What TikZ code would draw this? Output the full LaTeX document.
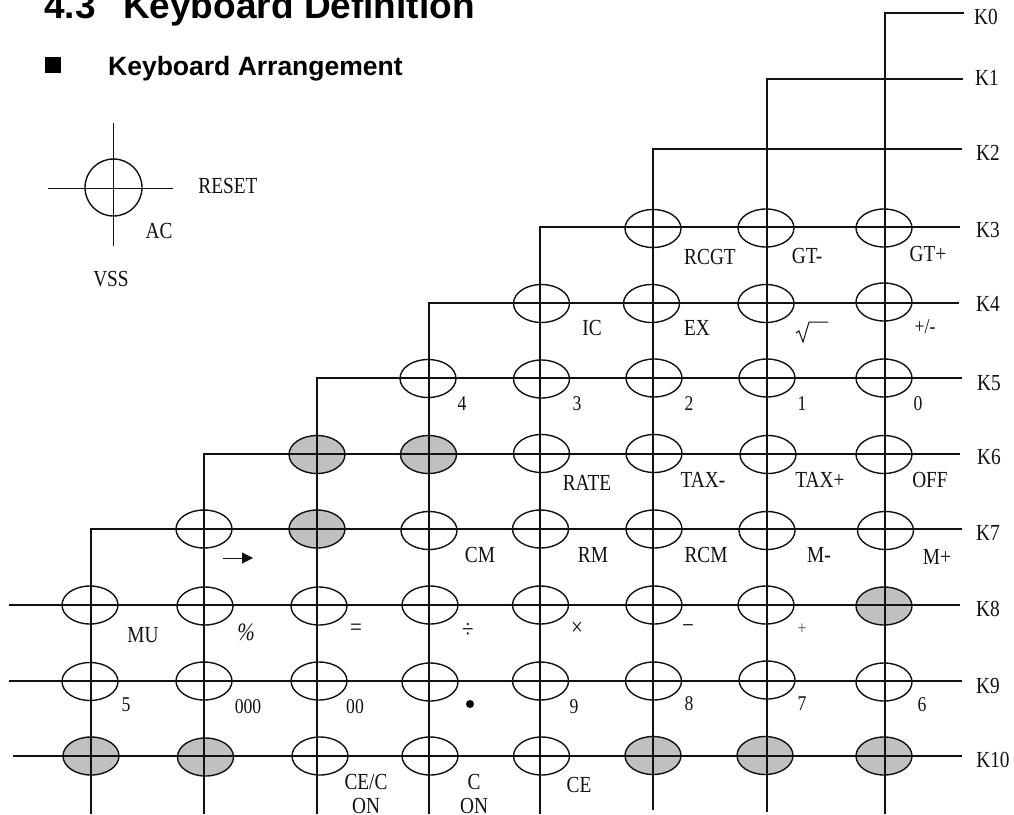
\documentclass[tikz,border=0pt]{standalone}
\usepackage{fontspec}
\setmainfont{Liberation Sans}
\newfontfamily\lab[FakeStretch=0.84]{Liberation Serif}
\usetikzlibrary{shapes.geometric,arrows.meta}
\definecolor{ink}{HTML}{111111}
\definecolor{keygray}{HTML}{C0C0C0}
\tikzset{
  key/.style={ellipse,draw=ink,line width=1.4pt,fill=white,inner sep=0pt,minimum width=56pt,minimum height=38pt},
  graykey/.style={key,fill=keygray},
  wire/.style={draw=ink,line width=1.4pt,miter limit=10},
  txt/.style={inner sep=0pt,text=ink,font=\lab\fontsize{23}{23}\selectfont},
  num/.style={inner sep=0pt,text=ink,font=\lab\fontsize{21}{21}\selectfont},
  sym/.style={inner sep=0pt,text=ink,font=\lab\fontsize{25}{25}\selectfont},
  smallsym/.style={inner sep=0pt,text=black!65,font=\lab\fontsize{19}{19}\selectfont},
  head/.style={inner sep=0pt,anchor=base west,text=black,font=\bfseries\fontsize{37}{37}\selectfont},
  subhead/.style={inner sep=0pt,anchor=base west,text=black,font=\bfseries\fontsize{26.5}{26.5}\selectfont},
}
\begin{document}
\begin{tikzpicture}[x=1pt,y=-1pt]
\useasboundingbox (0,0) rectangle (1014,814);
% headings
\node[head] (title) at (44,18) {4.3\hspace{27.5pt}Keyboard Definition};
\node[fill=black,inner sep=0pt,minimum width=16pt,minimum height=16pt] (bullet) at (53,65) {};
\node[subhead] (sub) at (108,75) {Keyboard Arrangement};
% legend
\node[key,minimum width=57pt,minimum height=57pt,fill=none] (rk) at (113.5,187.5) {};
\coordinate (rl) at (48,188.5); \coordinate (rr) at (173,188.5);
\coordinate (rt) at (113.5,123); \coordinate (rb) at (113.5,246);
\draw[wire] (rl) -- (rr);
\draw[wire] (rt) -- (rb);
\node[txt] (reset) at (228,186) {RESET};
\node[txt] (ac) at (159,231) {AC};
\node[txt] (vss) at (111,279) {VSS};
% keys
\node[key] (a1) at (653,228.5) {}; \node[key] (a2) at (766,228) {}; \node[key] (a3) at (884,228) {};
\node[key] (b0) at (541.5,303.5) {}; \node[key] (b1) at (651.5,303.5) {}; \node[key] (b2) at (766,303.5) {}; \node[key] (b3) at (884,302) {};
\node[key] (c0) at (428,378.5) {}; \node[key] (c1) at (541.5,379) {}; \node[key] (c2) at (654,378) {}; \node[key] (c3) at (767,378) {}; \node[key] (c4) at (884,378) {};
\node[graykey] (d0) at (317,454.5) {}; \node[graykey] (d1) at (428.5,454.5) {}; \node[key] (d2) at (541.5,453.5) {}; \node[key] (d3) at (654,453.5) {}; \node[key] (d4) at (768,454.5) {}; \node[key] (d5) at (884,454.5) {};
\node[key] (e0) at (204,529) {}; \node[graykey] (e1) at (317,529) {}; \node[key] (e2) at (429,530.5) {}; \node[key] (e3) at (540.5,529) {}; \node[key] (e4) at (654,529) {}; \node[key] (e5) at (767,530.5) {}; \node[key] (e6) at (885.5,530.5) {};
\node[key] (f0) at (90,605) {}; \node[key] (f1) at (205,606) {}; \node[key] (f2) at (319,606) {}; \node[key] (f3) at (430,605) {}; \node[key] (f4) at (540.5,605) {}; \node[key] (f5) at (654,605) {}; \node[key] (f6) at (766,605) {}; \node[graykey] (f7) at (884,606) {};
\node[key] (g0) at (90,681.5) {}; \node[key] (g1) at (204,681) {}; \node[key] (g2) at (319,681) {}; \node[key] (g3) at (430,682) {}; \node[key] (g4) at (540.5,681) {}; \node[key] (g5) at (653.5,681) {}; \node[key] (g6) at (767,680) {}; \node[key] (g7) at (884,682) {};
\node[graykey] (h0) at (91,756) {}; \node[graykey] (h1) at (205.5,757) {}; \node[key] (h2) at (320,756) {}; \node[key] (h3) at (430,756) {}; \node[key] (h4) at (541.5,756) {}; \node[graykey] (h5) at (653,755.5) {}; \node[graykey] (h6) at (765,755.5) {}; \node[graykey] (h7) at (884,756) {};
% wire end points
\coordinate (k0r) at (964,13);  \coordinate (k0c) at (885,13);  \coordinate (k0b) at (885,814);
\coordinate (k1r) at (963,79);  \coordinate (k1c) at (767,79);  \coordinate (k1b) at (767,812);
\coordinate (k2r) at (962,149); \coordinate (k2c) at (653,149); \coordinate (k2b) at (653,810);
\coordinate (k3r) at (960,227); \coordinate (k3c) at (540,227); \coordinate (k3b) at (540,814);
\coordinate (k4r) at (959,303); \coordinate (k4c) at (429,303); \coordinate (k4b) at (429,814);
\coordinate (k5r) at (962,378); \coordinate (k5c) at (317,378); \coordinate (k5b) at (317,814);
\coordinate (k6r) at (960,454); \coordinate (k6c) at (204,454); \coordinate (k6b) at (204,814);
\coordinate (k7r) at (962,529); \coordinate (k7c) at (91,529);  \coordinate (k7b) at (91,814);
\coordinate (k8r) at (960,605); \coordinate (k8l) at (9,605);
\coordinate (k9r) at (962,681); \coordinate (k9l) at (9,681);
\coordinate (k10r) at (962,756); \coordinate (k10l) at (13,756);
% wires
\draw[wire] (k0r) -- (k0c) -- (k0b);
\draw[wire] (k1r) -- (k1c) -- (k1b);
\draw[wire] (k2r) -- (k2c) -- (k2b);
\draw[wire] (k3r) -- (k3c) -- (k3b);
\draw[wire] (k4r) -- (k4c) -- (k4b);
\draw[wire] (k5r) -- (k5c) -- (k5b);
\draw[wire] (k6r) -- (k6c) -- (k6b);
\draw[wire] (k7r) -- (k7c) -- (k7b);
\draw[wire] (k8l) -- (k8r);
\draw[wire] (k9l) -- (k9r);
\draw[wire] (k10l) -- (k10r);
% K labels
\node[txt] (K0) at (986,17) {K0};
\node[txt] (K1) at (987,78) {K1};
\node[txt] (K2) at (988,153) {K2};
\node[txt] (K3) at (988,230) {K3};
\node[txt] (K4) at (988,304) {K4};
\node[txt] (K5) at (989,383) {K5};
\node[txt] (K6) at (989,457) {K6};
\node[txt] (K7) at (988,533) {K7};
\node[txt] (K8) at (988,609) {K8};
\node[txt] (K9) at (988,686) {K9};
\node[txt] (K10) at (993,760) {K10};
% key labels
\node[txt] (l1) at (710,257) {RCGT};
\node[txt] (l2) at (807,256) {GT-};
\node[txt] (l3) at (928,254) {GT+};
\node[txt] (l4) at (592,328) {IC};
\node[txt] (l5) at (697,328) {EX};
\coordinate (s1) at (796,333); \coordinate (s2) at (799,331); \coordinate (s3) at (803,342); \coordinate (s4) at (809,322); \coordinate (s5) at (828,322);
\draw[ink,line width=1pt] (s1) -- (s2) -- (s3) -- (s4) -- (s5);
\node[num] (l6) at (925,327) {+/-};
\node[num] (l7) at (462,404) {4};
\node[num] (l8) at (577,404) {3};
\node[num] (l9) at (689,404) {2};
\node[num] (l10) at (802,404) {1};
\node[num] (l11) at (918,404) {0};
\node[txt] (l12) at (587,483) {RATE};
\node[txt] (l13) at (703,480) {TAX-};
\node[txt] (l14) at (820,480) {TAX+};
\node[txt] (l15) at (930,480) {OFF};
\node[txt] (l16) at (480,555) {CM};
\node[txt] (l17) at (593,555) {RM};
\node[txt] (l18) at (706,555) {RCM};
\node[txt] (l19) at (819,555) {M-};
\node[txt] (l20) at (937,557) {M+};
\coordinate (arl) at (223,558); \coordinate (arr) at (253,558);
\draw[ink,line width=1pt,-{Triangle[length=11pt,width=11pt]}] (arl) -- (arr);
\node[txt] (l21) at (143,635) {MU};
\node[sym] (l22) at (246,632) {\itshape\%};
\node[sym] (l23) at (356,630) {=};
\node[sym] (l24) at (468,630) {÷};
\node[sym] (l25) at (577,629) {×};
\node[sym] (l26) at (688,629) {−};
\node[smallsym] (l27) at (802,629) {+};
\node[num] (l28) at (126,705) {5};
\node[num] (l29) at (248,707) {000};
\node[num] (l30) at (355,707) {00};
\node[circle,fill=black,inner sep=0pt,minimum size=8pt] (l31) at (470,704) {};
\node[num] (l32) at (574,707) {9};
\node[num] (l33) at (689,704) {8};
\node[num] (l34) at (802,704) {7};
\node[num] (l35) at (922,705) {6};
\node[txt] (l36) at (366,782) {CE/C};
\node[txt] (l37) at (366,805.5) {ON};
\node[txt] (l38) at (474,782) {C};
\node[txt] (l39) at (474,805.5) {ON};
\node[txt] (l40) at (579,785) {CE};
\end{tikzpicture}
\end{document}
